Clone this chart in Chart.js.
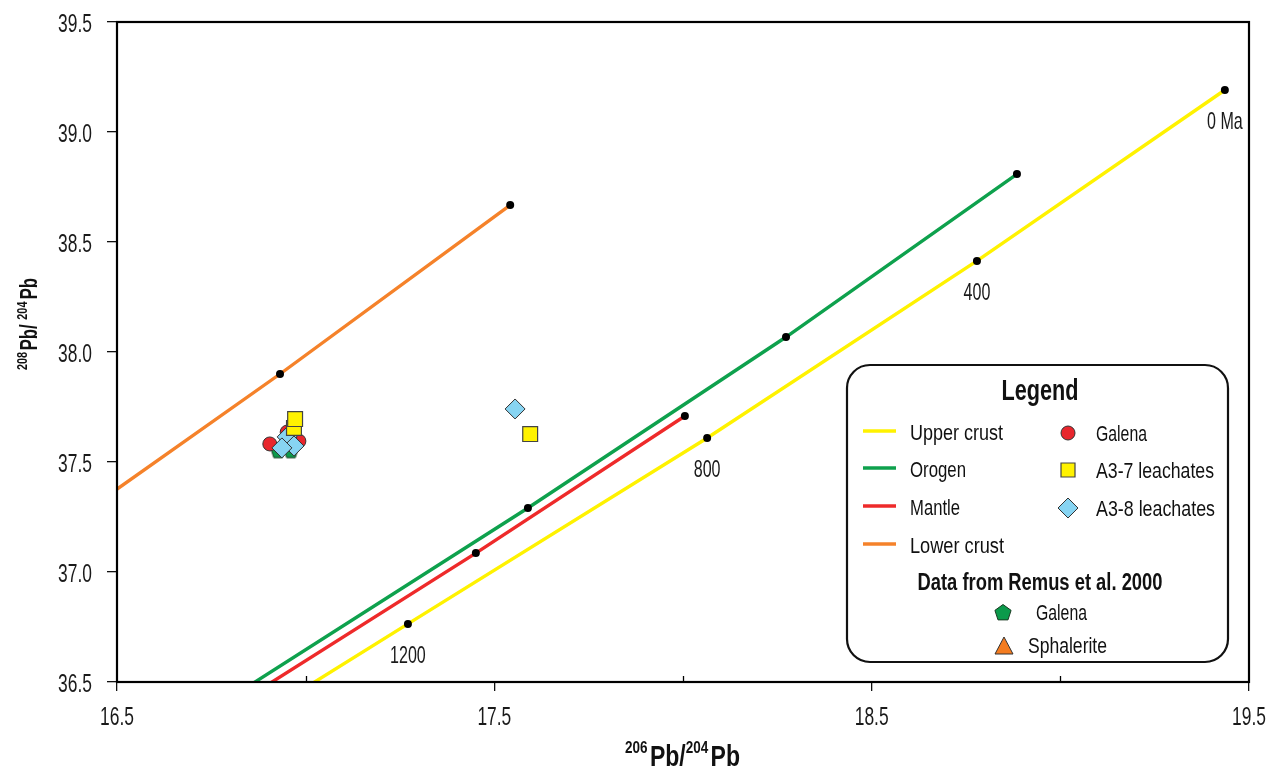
<!DOCTYPE html>
<html>
<head>
<meta charset="utf-8">
<script src="https://cdn.jsdelivr.net/npm/chart.js@4/dist/chart.umd.min.js"></script>
<style>
  html, body { margin: 0; padding: 0; background: #fff; }
  #wrap { position: relative; width: 1274px; height: 767px; }
  canvas { display: block; }
</style>
</head>
<body>
<div id="wrap"><canvas id="c" width="1274" height="767"></canvas></div>
<script>
// ---------------- DATA ----------------
const xTickValues = [16.5, 17.0, 17.5, 18.0, 18.5, 19.0, 19.5];
const xTickLabels = ['16.5', '', '17.5', '', '18.5', '', '19.5'];
const yTickValues = [36.5, 37.0, 37.5, 38.0, 38.5, 39.0, 39.5];
const yTickLabels = ['36.5', '37.0', '37.5', '38.0', '38.5', '39.0', '39.5'];

// Evolution curves (age in Ma; null = curve continuation without a marker)
const upperCrustX = [19.436, 18.779, 18.064, 17.271, 16.90];
const upperCrustY = [39.191, 38.414, 37.609, 36.764, 36.368];
const upperCrustAge = [0, 400, 800, 1200, null];
const upperCrustAgeLabels = ['0 Ma', '400', '800', '1200', ''];

const orogenX = [18.885, 18.273, 17.589, 16.80];
const orogenY = [38.809, 38.068, 37.291, 36.428];
const orogenAge = [0, 400, 800, null];

const mantleX = [18.005, 17.451, 16.85];
const mantleY = [37.709, 37.086, 36.434];
const mantleAge = [0, 400, null];

const lowerCrustX = [17.542, 16.932, 16.40];
const lowerCrustY = [38.668, 37.900, 37.256];
const lowerCrustAge = [0, 400, null];

// Samples
const galenaX = [16.951, 16.905, 16.982];
const galenaY = [37.636, 37.582, 37.595];
const a37X = [16.969, 16.972, 17.595];
const a37Y = [37.655, 37.695, 37.627];
const a38X = [16.951, 16.969, 16.937, 17.555];
const a38Y = [37.614, 37.573, 37.564, 37.741];
const remusGalenaX = [16.927, 16.961];
const remusGalenaY = [37.550, 37.550];
const remusSphaleriteX = [];
const remusSphaleriteY = [];

// ---------------- STYLE ----------------
const FONT = '"Liberation Sans", Arial, sans-serif';
const C = {
  yellow: '#fff200', green: '#0ea14d', red: '#ee2a2a', orange: '#f5822a',
  galena: '#e8262d', sq: '#fff200', dia: '#87d4f2', pent: '#0b9a4b', tri: '#f47c20'
};

function pts(xs, ys, extra) {
  return xs.map((x, i) => ({ x: x, y: ys[i], age: extra ? extra[i] : null }));
}

function pentagonPath(g, cx, cy, r) {
  g.beginPath();
  for (let i = 0; i < 5; i++) {
    const a = -Math.PI / 2 + i * 2 * Math.PI / 5;
    const px = cx + r * Math.cos(a), py = cy + r * Math.sin(a);
    if (i === 0) g.moveTo(px, py); else g.lineTo(px, py);
  }
  g.closePath();
}
function makePentagon(size, fill, stroke) {
  const c = document.createElement('canvas');
  c.width = size; c.height = size;
  const g = c.getContext('2d');
  pentagonPath(g, size / 2, size / 2 + 0.8, size / 2 - 1.2);
  g.fillStyle = fill; g.fill();
  g.lineWidth = 1; g.strokeStyle = stroke; g.stroke();
  return c;
}
const pentImg = makePentagon(17, C.pent, '#1a3a22');

function curve(label, xs, ys, ages, color, order) {
  return {
    label: label, type: 'scatter', data: pts(xs, ys, ages), showLine: true,
    borderColor: color, borderWidth: 3.4, order: order,
    pointRadius: c => (c.raw && c.raw.age !== null ? 4 : 0),
    pointBackgroundColor: '#000', pointBorderColor: '#000', pointBorderWidth: 0,
    tension: 0
  };
}

const datasets = [
  curve('Lower crust', lowerCrustX, lowerCrustY, lowerCrustAge, C.orange, 10),
  curve('Mantle', mantleX, mantleY, mantleAge, C.red, 11),
  curve('Orogen', orogenX, orogenY, orogenAge, C.green, 12),
  curve('Upper crust', upperCrustX, upperCrustY, upperCrustAge, C.yellow, 13),
  { label: 'Galena (Remus et al. 2000)', data: pts(remusGalenaX, remusGalenaY), pointStyle: pentImg, order: 6 },
  { label: 'Sphalerite (Remus et al. 2000)', data: pts(remusSphaleriteX, remusSphaleriteY), pointStyle: 'triangle',
    pointRadius: 8, backgroundColor: C.tri, borderColor: '#333', borderWidth: 1, order: 6 },
  { label: 'Galena', data: pts(galenaX, galenaY), pointStyle: 'circle', pointRadius: 7,
    backgroundColor: C.galena, borderColor: '#333', borderWidth: 1, order: 4 },
  { label: 'A3-8 leachates', data: pts(a38X, a38Y), pointStyle: 'rectRot', pointRadius: 10,
    backgroundColor: C.dia, borderColor: '#333', borderWidth: 1, order: 3 },
  { label: 'A3-7 leachates', data: pts(a37X, a37Y), pointStyle: 'rect', pointRadius: 10.5,
    backgroundColor: C.sq, borderColor: '#444', borderWidth: 1.2, order: 2 }
];

// ---------------- TEXT HELPERS (condensed look) ----------------
function condText(g, text, x, y, font, sx, align) {
  g.save();
  g.font = font;
  g.textBaseline = 'alphabetic';
  g.textAlign = 'left';
  const w = g.measureText(text).width * sx;
  let x0 = x;
  if (align === 'center') x0 = x - w / 2;
  else if (align === 'right') x0 = x - w;
  g.translate(x0, y);
  g.scale(sx, 1);
  g.fillText(text, 0, 0);
  g.restore();
  return w;
}
function fitText(g, text, x, y, font, width, align) {
  g.save(); g.font = font;
  const sx = width / g.measureText(text).width;
  g.restore();
  return condText(g, text, x, y, font, sx, align);
}
function supTitle(g, parts, x0, y, big, small, raise, W) {
  g.save();
  let nat = 0;
  parts.forEach(p => {
    g.font = 'bold ' + (p.sup ? small : big) + 'px ' + FONT;
    p.w = g.measureText(p.t).width + (p.gap || 0);
    nat += p.w;
  });
  const sx = W / nat;
  g.translate(x0, y);
  g.scale(sx, 1);
  let x = 0;
  parts.forEach(p => {
    g.font = 'bold ' + (p.sup ? small : big) + 'px ' + FONT;
    g.textBaseline = 'alphabetic'; g.textAlign = 'left';
    g.fillText(p.t, x, p.sup ? -raise : 0);
    x += p.w;
  });
  g.restore();
}

const TICK_FONT = '26px ' + FONT;
const TICK_SX = 0.67;

const decor = {
  id: 'decor',
  afterDatasetsDraw(chart) {
    const g = chart.ctx, xs = chart.scales.x, ys = chart.scales.y, a = chart.chartArea;
    g.save();
    g.fillStyle = '#1a1a1a';
    yTickValues.forEach((v, i) => {
      condText(g, yTickLabels[i], 92, ys.getPixelForValue(v) + 9.5, TICK_FONT, TICK_SX, 'right');
    });
    xTickValues.forEach((v, i) => {
      if (!xTickLabels[i]) return;
      condText(g, xTickLabels[i], xs.getPixelForValue(v), 725, TICK_FONT, TICK_SX, 'center');
    });
    upperCrustX.forEach((x, i) => {
      const lab = upperCrustAgeLabels[i];
      if (!lab) return;
      condText(g, lab, xs.getPixelForValue(x), ys.getPixelForValue(upperCrustY[i]) + 39, '24px ' + FONT, 0.67, 'center');
    });
    g.strokeStyle = '#000'; g.lineWidth = 2.2;
    g.strokeRect(a.left, a.top, a.right - a.left, a.bottom - a.top);
    g.lineWidth = 1.3;
    xTickValues.forEach((v, i) => {
      if (xTickLabels[i]) return;
      const px = Math.round(xs.getPixelForValue(v)) + 0.5;
      g.beginPath(); g.moveTo(px, a.bottom); g.lineTo(px, a.bottom - 6); g.stroke();
    });
    g.beginPath(); g.moveTo(a.left, a.bottom); g.lineTo(a.left, a.bottom - 8); g.stroke();
    g.restore();
  },
  afterDraw(chart) {
    const g = chart.ctx;
    g.save();
    g.fillStyle = '#111';
    supTitle(g, [{ t: '206', sup: true, gap: 3 }, { t: 'Pb/', sup: false }, { t: '204', sup: true, gap: 3 }, { t: 'Pb', sup: false }],
      625, 766, 29, 17, 13, 115);
    g.save();
    g.translate(37, 370);
    g.rotate(-Math.PI / 2);
    supTitle(g, [{ t: '208', sup: true, gap: 2 }, { t: 'Pb/ ', sup: false }, { t: '204', sup: true, gap: 3 }, { t: 'Pb', sup: false }],
      0, 0, 23, 15, 10, 92);
    g.restore();

    // ---- legend box ----
    g.beginPath();
    g.roundRect(847, 365, 381, 297, 23);
    g.fillStyle = '#fff'; g.fill();
    g.lineWidth = 2.2; g.strokeStyle = '#111'; g.stroke();

    g.fillStyle = '#111';
    fitText(g, 'Legend', 1040, 400, 'bold 30px ' + FONT, 77, 'center');

    const LF = '22px ' + FONT;
    const lineRows = [['Upper crust', C.yellow, 431, 440, 93], ['Orogen', C.green, 468, 477, 56],
                      ['Mantle', C.red, 506, 515, 50], ['Lower crust', C.orange, 544, 553, 94]];
    lineRows.forEach(r => {
      g.strokeStyle = r[1]; g.lineWidth = 3.4;
      g.beginPath(); g.moveTo(863, r[2]); g.lineTo(896, r[2]); g.stroke();
      g.fillStyle = '#111';
      fitText(g, r[0], 910, r[3], LF, r[4], 'left');
    });
    g.lineWidth = 1;
    g.beginPath(); g.arc(1068, 433, 7, 0, Math.PI * 2);
    g.fillStyle = C.galena; g.fill(); g.strokeStyle = '#333'; g.stroke();
    g.fillStyle = '#111'; fitText(g, 'Galena', 1096, 441, LF, 51, 'left');
    g.beginPath(); g.rect(1061, 463, 14, 14);
    g.fillStyle = C.sq; g.fill(); g.strokeStyle = '#444'; g.lineWidth = 1.2; g.stroke();
    g.fillStyle = '#111'; fitText(g, 'A3-7 leachates', 1096, 478, LF, 118, 'left');
    g.beginPath(); g.moveTo(1068, 498); g.lineTo(1078, 508); g.lineTo(1068, 518); g.lineTo(1058, 508); g.closePath();
    g.fillStyle = C.dia; g.fill(); g.strokeStyle = '#333'; g.lineWidth = 1; g.stroke();
    g.fillStyle = '#111'; fitText(g, 'A3-8 leachates', 1096, 516, LF, 119, 'left');

    fitText(g, 'Data from Remus et al. 2000', 1040, 590, 'bold 23px ' + FONT, 245, 'center');
    pentagonPath(g, 1003, 613, 8.5);
    g.fillStyle = C.pent; g.fill(); g.strokeStyle = '#1a3a22'; g.lineWidth = 1; g.stroke();
    g.fillStyle = '#111'; fitText(g, 'Galena', 1036, 620, LF, 51, 'left');
    g.beginPath(); g.moveTo(1004, 637); g.lineTo(1013, 654); g.lineTo(995, 654); g.closePath();
    g.fillStyle = C.tri; g.fill(); g.strokeStyle = '#333'; g.stroke();
    g.fillStyle = '#111'; fitText(g, 'Sphalerite', 1028, 653, LF, 79, 'left');
    g.restore();
  }
};

// ---------------- CHART ----------------
new Chart(document.getElementById('c'), {
  type: 'scatter',
  data: { datasets: datasets },
  options: {
    responsive: false,
    animation: false,
    events: [],
    layout: { padding: { top: 22, right: 25, left: 0, bottom: 0 } },
    plugins: { legend: { display: false }, tooltip: { enabled: false } },
    scales: {
      x: {
        type: 'linear', min: 16.5, max: 19.5,
        afterBuildTicks: s => { s.ticks = xTickValues.map(v => ({ value: v })); },
        afterFit: s => { s.height = 85; },
        ticks: { autoSkip: false, maxRotation: 0, callback: () => '' },
        grid: {
          drawOnChartArea: false, tickLength: 9, lineWidth: 1.3,
          color: c => (c.tick && xTickLabels[xTickValues.indexOf(c.tick.value)] ? '#111' : 'rgba(0,0,0,0)')
        },
        border: { display: false }
      },
      y: {
        type: 'linear', min: 36.5, max: 39.5,
        afterBuildTicks: s => { s.ticks = yTickValues.map(v => ({ value: v })); },
        afterFit: s => { s.width = 117; },
        ticks: { autoSkip: false, callback: () => '' },
        grid: { drawOnChartArea: false, tickLength: 10, lineWidth: 1.3, color: '#111' },
        border: { display: false }
      }
    }
  },
  plugins: [decor]
});
</script>
</body>
</html>
